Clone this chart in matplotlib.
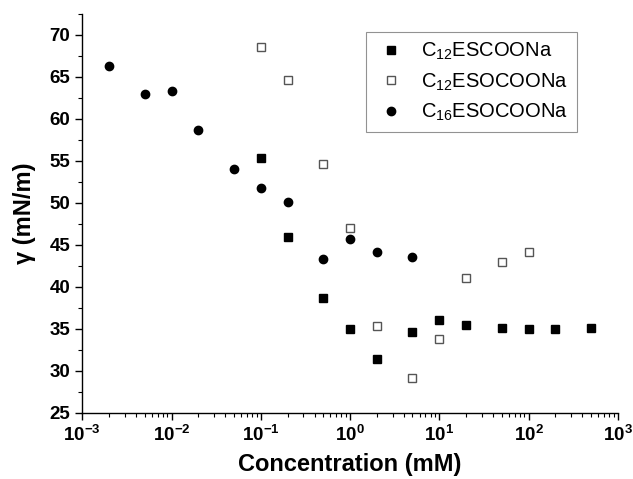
import numpy as np
import matplotlib
matplotlib.use('Agg')
import matplotlib.pyplot as plt
from matplotlib.ticker import LogLocator, FuncFormatter, MultipleLocator, NullFormatter

plt.rcParams['font.family'] = ['Liberation Sans', 'DejaVu Sans']
plt.rcParams['mathtext.fontset'] = 'custom'
plt.rcParams['mathtext.rm'] = 'Liberation Sans'
plt.rcParams['mathtext.bf'] = 'Liberation Sans:bold'
plt.rcParams['mathtext.default'] = 'regular'

# C12ESCOONa
conc_a = [0.1, 0.2, 0.5, 1, 2, 5, 10, 20, 50, 100, 200, 500]
gamma_a = [55.4, 45.9, 38.65, 34.95, 31.4, 34.6, 36.0, 35.45, 35.05, 34.95, 35.0, 35.15]
# C12ESOCOONa
conc_b = [0.1, 0.2, 0.5, 1, 2, 5, 10, 20, 50, 100]
gamma_b = [68.5, 64.6, 54.6, 47.0, 35.3, 29.2, 33.85, 41.1, 43.0, 44.2]
# C16ESOCOONa
conc_c = [0.002, 0.005, 0.01, 0.02, 0.05, 0.1, 0.2, 0.5, 1, 2, 5]
gamma_c = [66.35, 63.0, 63.3, 58.65, 54.0, 51.8, 50.15, 43.35, 45.7, 44.15, 43.6]

labels = ['C$_{12}$ESCOONa', 'C$_{12}$ESOCOONa', 'C$_{16}$ESOCOONa']

fig = plt.figure(figsize=(6.33, 4.79), dpi=100)
ax = fig.add_axes([0.130, 0.138, 0.846, 0.833])

ax.plot(conc_a, gamma_a, 's', color='black', markersize=5.2, label=labels[0])
ax.plot(conc_b, gamma_b, 's', markerfacecolor='white', markeredgecolor='#555555',
        markeredgewidth=1.0, markersize=5.2, label=labels[1])
ax.plot(conc_c, gamma_c, 'o', color='black', markersize=6, label=labels[2])

ax.set_xscale('log')
ax.set_xlim(1e-3, 1e3)
ax.set_ylim(25, 72.5)

ax.xaxis.set_major_locator(LogLocator(base=10, numticks=10))
ax.xaxis.set_minor_locator(LogLocator(base=10, subs=np.arange(2, 10), numticks=20))
ax.xaxis.set_minor_formatter(NullFormatter())
ax.xaxis.set_major_formatter(FuncFormatter(lambda v, p: r'$\mathbf{10^{%d}}$' % round(np.log10(v))))
ax.yaxis.set_major_locator(MultipleLocator(5))
ax.yaxis.set_minor_locator(MultipleLocator(2.5))

ax.spines['top'].set_visible(False)
ax.spines['right'].set_visible(False)
for s in ['left', 'bottom']:
    ax.spines[s].set_linewidth(1.0)

ax.tick_params(which='major', direction='out', length=5, width=1.0, labelsize=13.5)
ax.tick_params(which='minor', direction='out', length=3, width=0.8)
for lbl in ax.get_yticklabels():
    lbl.set_fontweight('bold')

ax.set_xlabel('Concentration (mM)', fontsize=17, fontweight='bold', labelpad=6)
ax.set_ylabel('γ (mN/m)', fontsize=17, fontweight='bold', labelpad=10)

leg = ax.legend(loc='upper left', bbox_to_anchor=(366 / 633, 1 - 32 / 479),
                bbox_transform=fig.transFigure, fontsize=14.5,
                frameon=True, fancybox=False, edgecolor='#777777',
                handletextpad=0.7, borderpad=0.45, labelspacing=0.45, handlelength=1.6,
                borderaxespad=0)
leg.get_frame().set_linewidth(0.8)

fig.savefig('out.png', dpi=100)
